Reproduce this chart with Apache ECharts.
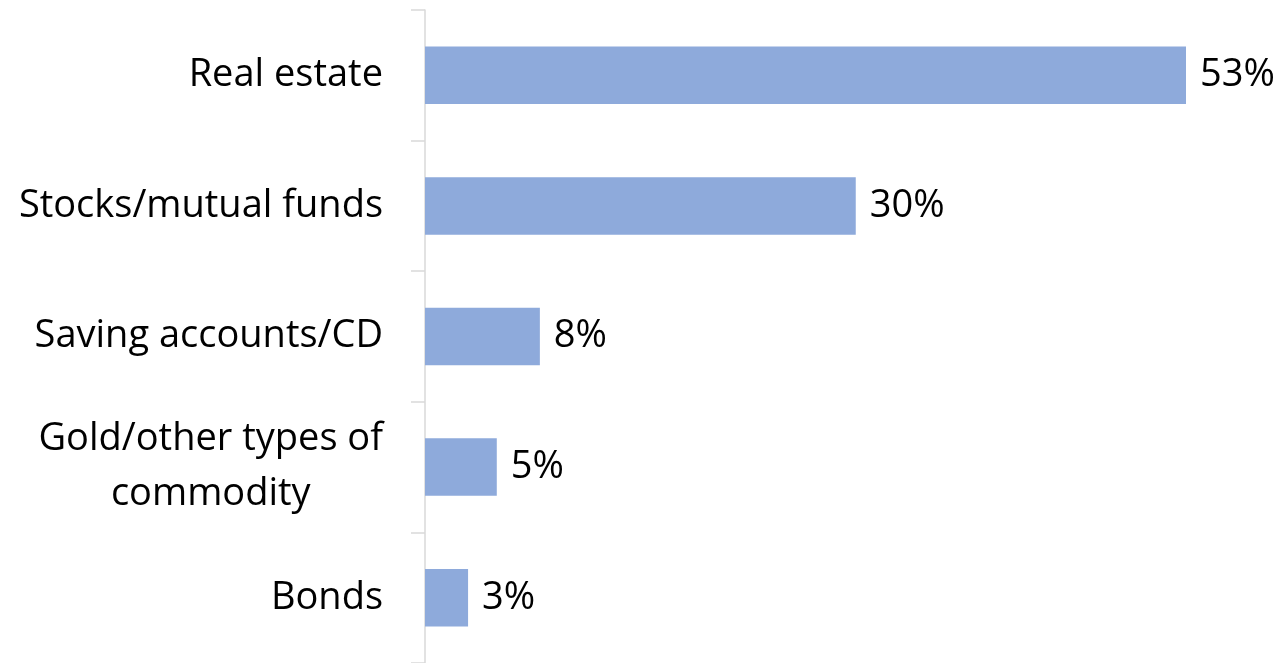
<!DOCTYPE html>
<html>
<head>
<meta charset="utf-8">
<script src="https://cdn.jsdelivr.net/npm/echarts@6/dist/echarts.min.js"></script>
<style>
  html, body { margin: 0; padding: 0; background: #fff; }
  #chart { width: 1281px; height: 663px; }
</style>
</head>
<body>
<div id="chart"></div>
<script>
// Investment categories, top to bottom
const categories = [
  'Real estate',
  'Stocks/mutual funds',
  'Saving accounts/CD',
  'Gold/other types of\ncommodity',
  'Bonds'
];
// Share of respondents (%)
const shares = [53, 30, 8, 5, 3];

const FONT = '"Open Sans", sans-serif';
const SIZE = 38;

const chart = echarts.init(document.getElementById('chart'), null, { renderer: 'canvas' });

chart.setOption({
  animation: false,
  grid: { left: 425, right: 95, top: 10, height: 655, containLabel: false },
  xAxis: {
    type: 'value',
    min: 0,
    max: 53,
    show: false
  },
  yAxis: {
    type: 'category',
    data: categories,
    inverse: true,
    axisLine: { show: true, lineStyle: { color: '#d9d9d9', width: 1.5 } },
    axisTick: { show: true, length: 14, lineStyle: { color: '#d9d9d9', width: 1.5 } },
    splitLine: { show: false },
    axisLabel: {
      margin: 42,
      color: '#000',
      fontFamily: FONT,
      fontSize: SIZE,
      // each line of a wrapped category name is centred within the label block
      formatter: function (v) {
        return v.split('\n').map(function (s) { return '{c|' + s + '}'; }).join('\n');
      },
      rich: {
        c: { align: 'center', fontFamily: FONT, fontSize: SIZE, color: '#000', lineHeight: 55 }
      }
    }
  },
  series: [{
    type: 'bar',
    data: shares,
    barCategoryGap: '56%',
    itemStyle: { color: '#8eaadb' },
    label: {
      show: true,
      position: 'right',
      distance: 14,
      color: '#000',
      fontFamily: FONT,
      fontSize: SIZE,
      formatter: '{c}%'
    }
  }]
});
</script>
</body>
</html>
